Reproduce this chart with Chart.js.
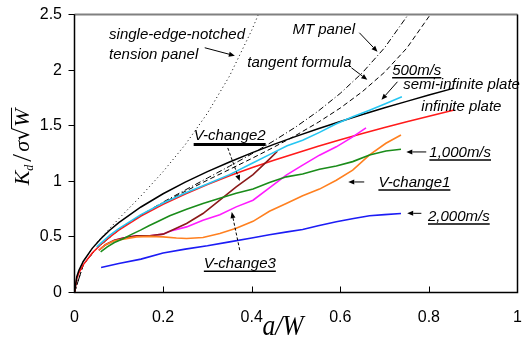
<!DOCTYPE html>
<html>
<head>
<meta charset="utf-8">
<script src="https://cdn.jsdelivr.net/npm/chart.js@4.4.1/dist/chart.umd.min.js"></script>
<style>
  html, body { margin: 0; padding: 0; background: #fff; }
  #c { display: block; }
</style>
</head>
<body>
<canvas id="c" width="523" height="341"></canvas>
<script>
// Axis ticks
const xTickValues = [0, 0.2, 0.4, 0.6, 0.8, 1];
const xTickLabels = ['0', '0.2', '0.4', '0.6', '0.8', '1'];
const yTickValues = [0, 0.5, 1, 1.5, 2, 2.5];
const yTickLabels = ['0', '0.5', '1', '1.5', '2', '2.5'];

// Static reference solutions, K/(sigma*sqrt(W)) against a/W
const plateX = [0, 0.005, 0.01, 0.02, 0.04, 0.06, 0.08, 0.1, 0.15, 0.2, 0.25, 0.3, 0.35, 0.4, 0.45, 0.5, 0.55, 0.6, 0.65, 0.7, 0.75, 0.8, 0.857];
const infinitePlateY = [0, 0.125, 0.177, 0.251, 0.355, 0.434, 0.501, 0.561, 0.687, 0.793, 0.886, 0.971, 1.049, 1.121, 1.189, 1.253, 1.315, 1.373, 1.429, 1.483, 1.535, 1.585, 1.641];
const semiInfinitePlateY = [0, 0.140, 0.199, 0.281, 0.397, 0.486, 0.562, 0.628, 0.769, 0.888, 0.993, 1.087, 1.174, 1.256, 1.332, 1.404, 1.472, 1.538, 1.601, 1.661, 1.719, 1.776, 1.838];

const sentX = [0, 0.01, 0.02, 0.05, 0.1, 0.15, 0.2, 0.25, 0.3, 0.35, 0.4, 0.415];
const sentY = [0, 0.198, 0.281, 0.449, 0.664, 0.868, 1.087, 1.330, 1.612, 1.947, 2.358, 2.50];

const tangentX = [0, 0.02, 0.05, 0.1, 0.15, 0.2, 0.25, 0.3, 0.35, 0.4, 0.45, 0.5, 0.55, 0.6, 0.65, 0.7, 0.75, 0.8, 0.803];
const tangentY = [0, 0.251, 0.397, 0.563, 0.693, 0.806, 0.910, 1.010, 1.107, 1.205, 1.307, 1.414, 1.530, 1.659, 1.807, 1.981, 2.197, 2.481, 2.50];

const mtX = [0, 0.02, 0.05, 0.1, 0.15, 0.2, 0.25, 0.3, 0.35, 0.4, 0.45, 0.5, 0.55, 0.6, 0.65, 0.7, 0.75, 0.753];
const mtY = [0, 0.251, 0.397, 0.564, 0.696, 0.813, 0.922, 1.029, 1.136, 1.246, 1.364, 1.490, 1.631, 1.791, 1.977, 2.201, 2.481, 2.50];

// Dynamic crack runs
const v500X = [0.05, 0.08, 0.10, 0.15, 0.20, 0.25, 0.30, 0.35, 0.40, 0.44, 0.48, 0.515, 0.553, 0.59, 0.628, 0.666, 0.703, 0.739];
const v500Y = [0.41, 0.515, 0.575, 0.70, 0.805, 0.895, 0.975, 1.06, 1.16, 1.24, 1.32, 1.37, 1.44, 1.515, 1.58, 1.64, 1.70, 1.76];

const v1000X = [0.059, 0.074, 0.09, 0.111, 0.13, 0.149, 0.168, 0.187, 0.215, 0.253, 0.29, 0.328, 0.365, 0.403, 0.44, 0.478, 0.515, 0.553, 0.591, 0.628, 0.666, 0.703, 0.737];
const v1000Y = [0.366, 0.41, 0.45, 0.486, 0.525, 0.561, 0.60, 0.636, 0.69, 0.748, 0.80, 0.847, 0.892, 0.93, 0.99, 1.04, 1.066, 1.108, 1.138, 1.177, 1.237, 1.273, 1.288];

const v2000X = [0.06, 0.10, 0.15, 0.20, 0.25, 0.30, 0.35, 0.40, 0.44, 0.48, 0.515, 0.55, 0.591, 0.63, 0.666, 0.70, 0.737];
const v2000Y = [0.225, 0.26, 0.30, 0.355, 0.39, 0.42, 0.455, 0.49, 0.52, 0.545, 0.567, 0.60, 0.636, 0.665, 0.69, 0.70, 0.711];

const vChange1X = [0.055, 0.07, 0.09, 0.11, 0.14, 0.17, 0.20, 0.23, 0.253, 0.29, 0.328, 0.365, 0.403, 0.44, 0.478, 0.515, 0.553, 0.591, 0.628, 0.666, 0.703, 0.737];
const vChange1Y = [0.38, 0.43, 0.465, 0.48, 0.50, 0.505, 0.50, 0.49, 0.485, 0.495, 0.53, 0.577, 0.64, 0.73, 0.80, 0.87, 0.93, 1.01, 1.10, 1.237, 1.342, 1.417];

const vChange2X = [0.055, 0.07, 0.09, 0.11, 0.14, 0.17, 0.20, 0.215, 0.253, 0.29, 0.328, 0.365, 0.403, 0.44, 0.458];
const vChange2Y = [0.38, 0.43, 0.47, 0.49, 0.51, 0.51, 0.525, 0.55, 0.62, 0.71, 0.83, 0.95, 1.06, 1.20, 1.27];

const vChange3X = [0.055, 0.07, 0.09, 0.11, 0.14, 0.17, 0.20, 0.215, 0.253, 0.29, 0.328, 0.365, 0.403, 0.44, 0.478, 0.515, 0.553, 0.591, 0.628, 0.658];
const vChange3Y = [0.38, 0.43, 0.47, 0.49, 0.51, 0.51, 0.525, 0.55, 0.59, 0.65, 0.70, 0.77, 0.83, 0.94, 1.055, 1.145, 1.235, 1.31, 1.40, 1.48];

function pts(xs, ys) { return xs.map((v, i) => ({ x: v, y: ys[i] })); }

function series(xs, ys, color, width, dash) {
  return {
    data: pts(xs, ys),
    borderColor: color,
    borderWidth: width,
    borderDash: dash || [],
    pointRadius: 0,
    tension: 0,
    fill: false
  };
}

// Text annotations, placed in data coordinates
const notes = [
  { text: 'single-edge-notched', x: 0.078, y: 2.318 },
  { text: 'tension panel', x: 0.078, y: 2.138 },
  { text: 'MT panel', x: 0.492, y: 2.363 },
  { text: 'tangent formula', x: 0.39, y: 2.066 },
  { text: '500m/s', x: 0.717, y: 1.994, under: 1.5 },
  { text: 'semi-infinite plate', x: 0.742, y: 1.868 },
  { text: 'infinite plate', x: 0.783, y: 1.669 },
  { text: '1,000m/s', x: 0.801, y: 1.255, under: 1.5 },
  { text: 'V-change1', x: 0.686, y: 0.985, under: 1.5 },
  { text: '2,000m/s', x: 0.798, y: 0.678, under: 1.5 },
  { text: 'V-change3', x: 0.292, y: 0.255, under: 1.5 },
  { text: 'V-change2', x: 0.269, y: 1.408, under: 3 }
];
const pointers = [
  { from: [0.294, 2.201], to: [0.362, 2.129] },
  { from: [0.643, 2.336], to: [0.684, 2.165] },
  { from: [0.625, 2.021], to: [0.661, 1.913] },
  { from: [0.729, 1.895], to: [0.693, 1.733] },
  { from: [0.794, 1.264], to: [0.749, 1.264] },
  { from: [0.654, 0.994], to: [0.618, 0.994] },
  { from: [0.783, 0.712], to: [0.751, 0.712] },
  { from: [0.373, 0.381], to: [0.355, 0.723], dashed: true },
  { from: [0.346, 1.300], to: [0.373, 1.003], dashed: true }
];

function arrow(ctx, x1, y1, x2, y2, dashed) {
  const ang = Math.atan2(y2 - y1, x2 - x1);
  const head = 6, half = 2.5;
  ctx.save();
  ctx.strokeStyle = '#000';
  ctx.fillStyle = '#000';
  ctx.lineWidth = 1;
  ctx.setLineDash(dashed ? [3, 2] : []);
  ctx.beginPath();
  ctx.moveTo(x1, y1);
  ctx.lineTo(x2 - Math.cos(ang) * head, y2 - Math.sin(ang) * head);
  ctx.stroke();
  ctx.setLineDash([]);
  ctx.beginPath();
  ctx.moveTo(x2, y2);
  ctx.lineTo(x2 - Math.cos(ang) * head - Math.sin(ang) * half, y2 - Math.sin(ang) * head + Math.cos(ang) * half);
  ctx.lineTo(x2 - Math.cos(ang) * head + Math.sin(ang) * half, y2 - Math.sin(ang) * head - Math.cos(ang) * half);
  ctx.closePath();
  ctx.fill();
  ctx.restore();
}

const overlay = {
  id: 'overlay',
  afterDraw(chart) {
    const { ctx, chartArea: a, scales: { x, y } } = chart;
    ctx.save();

    // plot frame
    ctx.strokeStyle = '#808080';
    ctx.lineWidth = 2;
    ctx.beginPath();
    ctx.moveTo(a.left, a.top);
    ctx.lineTo(a.right, a.top);
    ctx.stroke();
    ctx.strokeStyle = '#000';
    ctx.lineWidth = 1.5;
    ctx.beginPath();
    ctx.moveTo(a.left, a.top);
    ctx.lineTo(a.left, a.bottom);
    ctx.lineTo(a.right, a.bottom);
    ctx.lineTo(a.right, a.top);
    ctx.stroke();

    // inward tick marks on the x axis
    ctx.lineWidth = 1;
    xTickValues.forEach(v => {
      const px = Math.round(x.getPixelForValue(v)) + 0.5;
      if (px <= a.left + 1 || px >= a.right - 1) return;
      ctx.beginPath();
      ctx.moveTo(px, a.bottom);
      ctx.lineTo(px, a.bottom - 6);
      ctx.stroke();
    });

    // annotations
    ctx.fillStyle = '#000';
    ctx.font = 'italic 15px "Liberation Sans", Arial, sans-serif';
    ctx.textAlign = 'left';
    ctx.textBaseline = 'middle';
    notes.forEach(n => {
      const px = x.getPixelForValue(n.x), py = y.getPixelForValue(n.y);
      ctx.fillText(n.text, px, py);
      if (n.under) {
        const w = ctx.measureText(n.text).width;
        const off = n.under > 2 ? 8.5 : 7;
        ctx.lineWidth = n.under;
        ctx.beginPath();
        ctx.moveTo(px, py + off);
        ctx.lineTo(px + w, py + off);
        ctx.stroke();
      }
    });
    pointers.forEach(p => {
      arrow(ctx, x.getPixelForValue(p.from[0]), y.getPixelForValue(p.from[1]),
        x.getPixelForValue(p.to[0]), y.getPixelForValue(p.to[1]), p.dashed);
    });

    // x axis title: a/W
    ctx.save();
    ctx.font = 'italic 30px "Liberation Serif", "Times New Roman", serif';
    ctx.textAlign = 'center';
    ctx.textBaseline = 'alphabetic';
    ctx.translate(283, 335);
    ctx.scale(0.85, 1);
    ctx.fillText('a/W', 0, 0);
    ctx.restore();

    // y axis title: K_d / sigma sqrt(W)
    ctx.save();
    ctx.translate(29, 147);
    ctx.rotate(-Math.PI / 2);
    ctx.textAlign = 'left';
    ctx.textBaseline = 'alphabetic';
    const big = 'italic 22px "Liberation Serif", "Times New Roman", serif';
    const sub = 'italic 12px "Liberation Serif", "Times New Roman", serif';
    const slashF = '28px "Liberation Serif", "Times New Roman", serif';
    const rootF = '22px "DejaVu Serif", serif';
    const parts = [
      { t: 'K', f: big, dy: 0, gap: 0 },
      { t: 'd', f: sub, dy: 4, gap: 3 },
      { t: '/', f: slashF, dy: 2, gap: 2 },
      { t: '\u03C3', f: big, dy: 0, gap: 0 },
      { t: '\u221A', f: rootF, dy: 0, gap: 0 },
      { t: 'W', f: big, dy: 0, gap: 0 }
    ];
    let total = 0;
    parts.forEach(p => { ctx.font = p.f; p.w = ctx.measureText(p.t).width; total += p.w + p.gap; });
    let cx = -total / 2;
    let wStart = 0, wEnd = 0;
    parts.forEach(p => {
      ctx.font = p.f;
      ctx.fillText(p.t, cx, p.dy);
      if (p.t === 'W') { wStart = cx; wEnd = cx + p.w; }
      cx += p.w + p.gap;
    });
    ctx.lineWidth = 1;
    ctx.beginPath();
    ctx.moveTo(wStart - 1, -17.5);
    ctx.lineTo(wEnd + 1, -17.5);
    ctx.stroke();
    ctx.restore();

    ctx.restore();
  }
};

Chart.defaults.font.family = '"Liberation Sans", Arial, sans-serif';
Chart.defaults.font.size = 16;
Chart.defaults.color = '#000';

new Chart(document.getElementById('c'), {
  type: 'line',
  data: {
    datasets: [
      series(v500X, v500Y, '#26c6f2', 1.6),
      series(v1000X, v1000Y, '#1a8c1a', 1.6),
      series(v2000X, v2000Y, '#1c1cf5', 1.6),
      series(vChange1X, vChange1Y, '#ff8020', 1.6),
      series(vChange2X, vChange2Y, '#8b1a1a', 1.6),
      series(vChange3X, vChange3Y, '#ff1cff', 1.6),
      series(plateX, semiInfinitePlateY, '#000000', 1.5),
      series(plateX, infinitePlateY, '#ff1a1a', 1.6),
      series(sentX, sentY, '#000000', 1, [1, 3]),
      series(tangentX, tangentY, '#000000', 1, [5, 3]),
      series(mtX, mtY, '#000000', 1, [6, 2.5, 1, 2.5])
    ]
  },
  options: {
    responsive: false,
    animation: false,
    events: [],
    layout: { padding: { top: 14.5, right: 5.5, left: 0, bottom: 0 } },
    plugins: { legend: { display: false }, tooltip: { enabled: false } },
    scales: {
      x: {
        type: 'linear',
        min: 0,
        max: 1,
        afterBuildTicks: s => { s.ticks = xTickValues.map(v => ({ value: v })); },
        afterFit: s => { s.height = 48.5; },
        // hidden tick marks only reserve the gap between axis and labels
        grid: { display: false, drawTicks: true, tickLength: 15 },
        border: { display: false },
        ticks: {
          padding: 0,
          maxRotation: 0,
          autoSkip: false,
          callback: (v, i) => xTickLabels[i]
        }
      },
      y: {
        type: 'linear',
        min: 0,
        max: 2.5,
        afterBuildTicks: s => { s.ticks = yTickValues.map(v => ({ value: v })); },
        afterFit: s => { s.width = 74.5; },
        grid: { drawOnChartArea: false, drawTicks: true, tickLength: 6, color: '#000', lineWidth: 1 },
        border: { display: false },
        ticks: {
          padding: 6.5,
          autoSkip: false,
          font: { size: 16, lineHeight: 1 },
          callback: (v, i) => yTickLabels[i]
        }
      }
    }
  },
  plugins: [overlay]
});
</script>
</body>
</html>
